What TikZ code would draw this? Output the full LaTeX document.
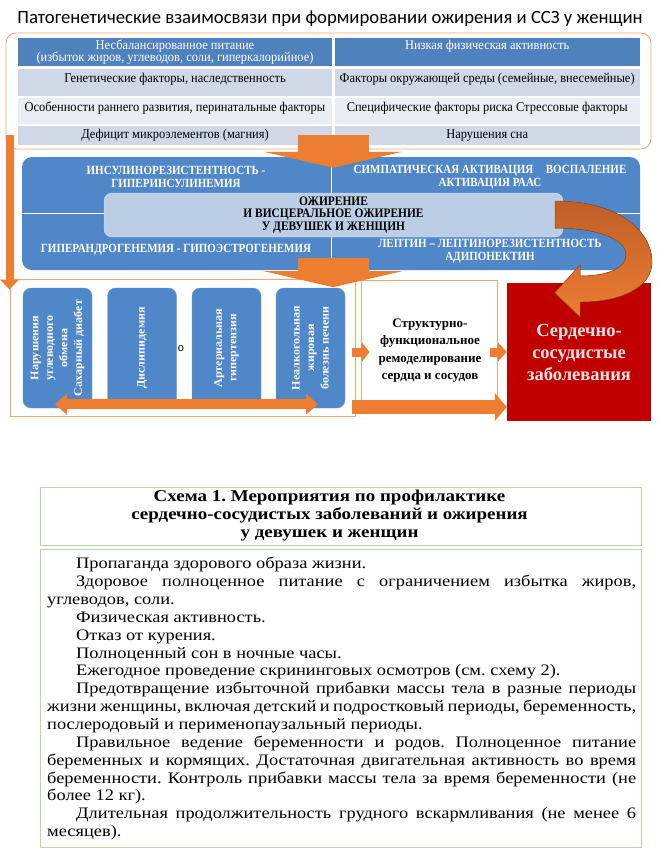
\documentclass[tikz,border=0pt]{standalone}
\usepackage{fontspec}
\setmainfont{Liberation Serif}
\newfontfamily\headfont{Carlito}
\newfontfamily\strayfont{Liberation Sans}
\newfontfamily\narrowfont[FakeStretch=0.88]{Liberation Serif}
\newfontfamily\tablefont[FakeStretch=0.93]{Liberation Serif}
\newfontfamily\widefont[FakeStretch=1.05]{Liberation Serif}
\newfontfamily\docfont[FakeStretch=1.15]{Liberation Serif}
\usetikzlibrary{arrows.meta, positioning, calc}
\definecolor{tablehead}{RGB}{79,129,189}
\definecolor{rowband}{RGB}{208,216,232}
\definecolor{rowpale}{RGB}{233,237,244}
\definecolor{mechblue}{RGB}{79,135,201}
\definecolor{obesblue}{RGB}{187,206,230}
\definecolor{riskorange}{RGB}{237,125,49}
\definecolor{riskbrown}{RGB}{190,95,40}
\definecolor{lineorange}{RGB}{240,165,115}
\definecolor{cvdred}{RGB}{192,0,0}
\definecolor{cvdtext}{RGB}{250,226,226}
\definecolor{notegreen}{RGB}{190,212,160}

\begin{document}
\frenchspacing
\begin{tikzpicture}[
  x=1pt, y=-1pt,
  cell/.style={rectangle, draw=white, line width=1.2pt, inner sep=2pt, align=center,
               font=\tablefont\fontsize{13.4}{12.5}\selectfont},
  headcell/.style={cell, fill=tablehead, text=white},
  bandcell/.style={cell, fill=rowband},
  palecell/.style={cell, fill=rowpale},
  mechtext/.style={font=\narrowfont\fontsize{12.5}{12.5}\selectfont\bfseries, text=white, align=center},
  effectbox/.style={rectangle, rounded corners=8pt, fill=mechblue, draw=mechblue!85!white,
                    minimum width=120pt, minimum height=69pt, rotate=90, align=center,
                    text=white, font=\widefont\fontsize{11.5}{14.5}\selectfont\bfseries},
  orangeframe/.style={rectangle, draw=lineorange, line width=0.9pt},
  blockarr/.style={riskorange}
]
\fill[white] (0,0) rectangle (660,857);
\useasboundingbox (0,0) rectangle (660,857);

\node[font=\headfont\fontsize{18.7}{22}\selectfont] (title) at (330,19)
  {Патогенетические взаимосвязи при формировании ожирения и ССЗ у женщин};

% risk factors
\node[orangeframe, rounded corners=10pt, minimum width=645pt, minimum height=116pt] (factors) at (328.5,91) {};
\node[headcell, minimum width=316pt, minimum height=30pt] (diet) at (175,52)
  {Несбалансированное питание\\(избыток жиров, углеводов, соли, гиперкалорийное)};
\node[bandcell, minimum width=316pt, minimum height=28pt, text depth=9pt, below=0pt of diet] (genes)
  {Генетические факторы, наследственность};
\node[palecell, minimum width=316pt, minimum height=27pt, text depth=9pt, below=0pt of genes] (early)
  {Особенности раннего развития, перинатальные факторы};
\node[bandcell, minimum width=316pt, minimum height=20pt, below=0pt of early] (micro)
  {Дефицит микроэлементов (магния)};
\node[headcell, minimum width=306pt, minimum height=30pt, text depth=14pt, right=0pt of diet] (activity)
  {Низкая физическая активность};
\node[bandcell, minimum width=306pt, minimum height=28pt, text depth=9pt, below=0pt of activity] (environ)
  {Факторы окружающей среды (семейные, внесемейные)};
\node[palecell, minimum width=306pt, minimum height=27pt, text depth=9pt, below=0pt of environ] (stress)
  {Специфические факторы риска Стрессовые факторы};
\node[bandcell, minimum width=306pt, minimum height=20pt, below=0pt of stress] (sleep)
  {Нарушения сна};

% mechanisms
\node[rectangle, rounded corners=10pt, fill=mechblue, minimum width=618pt, minimum height=113pt] (mech) at (331,213.5) {};
\draw[white, line width=0.8pt] (mech.north) -- (mech.south);
\draw[white, line width=0.8pt] (mech.west) -- (mech.east);
\node[mechtext] (insulin) at (176,177) {ИНСУЛИНОРЕЗИСТЕНТНОСТЬ -\\ГИПЕРИНСУЛИНЕМИЯ};
\node[mechtext] (sympath) at (490,177) {СИМПАТИЧЕСКАЯ АКТИВАЦИЯ\quad ВОСПАЛЕНИЕ\\АКТИВАЦИЯ РААС};
\node[mechtext] (androgen) at (176,250) {ГИПЕРАНДРОГЕНЕМИЯ - ГИПОЭСТРОГЕНЕМИЯ};
\node[mechtext] (leptin) at (490,251) {ЛЕПТИН – ЛЕПТИНОРЕЗИСТЕНТНОСТЬ\\АДИПОНЕКТИН};
\node[rectangle, rounded corners=8pt, fill=obesblue, draw=obesblue!60!white, inner sep=1pt,
      minimum width=459pt, minimum height=44pt, align=center,
      font=\narrowfont\fontsize{13}{12.5}\selectfont\bfseries] (obes) at (333.5,215)
  {ОЖИРЕНИЕ\\И ВИСЦЕРАЛЬНОЕ ОЖИРЕНИЕ\\У ДЕВУШЕК И ЖЕНЩИН};

% consequences
\node[orangeframe, minimum width=345pt, minimum height=137pt] (lower) at (182.5,347.5) {};
\node[effectbox] (carb) at (57.5,348) {Нарушения\\углеводного\\обмена\\Сахарный диабет};
\node[effectbox] (lipid) at (142,348) {Дислипидемия};
\node[effectbox] (hyperten) at (226.5,348) {Артериальная\\гипертензия};
\node[effectbox] (liver) at (310.5,348) {Неалкогольная\\жировая\\болезнь печени};
\node[font=\strayfont\fontsize{11}{12}\selectfont] (stray) at (181,349) {о};
\node[orangeframe, fill=white, minimum width=136pt, minimum height=129pt] (remodel) at (429,344.5) {};
\node[align=center, font=\fontsize{13}{17.5}\selectfont\bfseries] (remodeltext) at ($(remodel)+(1,6)$)
  {Структурно-\\функциональное\\ремоделирование\\сердца и сосудов};
\node[rectangle, fill=cvdred, minimum width=144pt, minimum height=138pt, align=center,
      text=cvdtext, font=\fontsize{18.5}{22}\selectfont\bfseries] (cvd) at (579,352)
  {Сердечно-\\сосудистые\\заболевания};

\draw[blockarr, line width=71pt, -{Triangle[width=138pt, length=16pt, line width=0pt]}]
  ($(factors.south)+(4.5,-14)$) -- ($(mech.north)+(2,11)$);
\draw[blockarr, line width=71pt, -{Triangle[width=138pt, length=16pt, line width=0pt]}]
  ($(mech.south)+(2,-12)$) -- ($(mech.south)+(2,17)$);
\draw[blockarr, line width=8pt, -{Triangle[width=19pt, length=10pt, line width=0pt]}]
  ($(factors.south west)+(4,-14)$) -- ($(factors.south west |- lower.north)+(4,11)$);
% carb / liver are turned, so their west anchor is at the bottom
\draw[blockarr, line width=10pt, {Triangle[width=21pt, length=12pt, line width=0pt]}-{Triangle[width=21pt, length=12pt, line width=0pt]}]
  ($(carb.west)+(-2.5,-4)$) -- ($(liver.west)+(7.5,-4)$);
\draw[blockarr, line width=9pt, -{Triangle[width=20pt, length=8pt, line width=0pt]}]
  ($(lower.east)+(-3,4.5)$) -- ($(remodel.west)+(9,7.5)$);
\draw[blockarr, line width=9pt, -{Triangle[width=19pt, length=9pt, line width=0pt]}]
  ($(remodel.east)+(-7,7.5)$) -- (cvd.west);
\draw[blockarr, line width=14pt, -{Triangle[width=28pt, length=12pt, line width=0pt]}]
  ($(lower.east)+(-3,59.5)$) -- ($(cvd.west)+(0,55)$);

% curved arrow from obesity to CVD
\coordinate (loopstart) at ($(obes.east)+(-8,-14)$);
\coordinate (looptip) at ($(cvd.north west)+(48,10)$);
\filldraw[draw=riskbrown!80!black, line width=0.5pt, top color=riskbrown, bottom color=riskorange]
  (loopstart) .. controls (620,201) and (652,232) .. (652,262)
  .. controls (652,288) and (620,302) .. (580,302)
  -- (580,317) -- (looptip) -- (580,265) -- (580,276)
  .. controls (608,276) and (626,268) .. (626,255)
  .. controls (626,240) and (600,228) .. (555,228) -- cycle;

% prevention scheme
\node[rectangle, draw=notegreen, line width=0.8pt, minimum width=601pt, minimum height=58pt] (scheme) at (340.5,516) {};
\node[align=center, font=\docfont\fontsize{16.5}{18}\selectfont\bfseries] (schemetext) at ($(scheme)+(-11,0)$)
  {Схема 1. Мероприятия по профилактике\\сердечно-сосудистых заболеваний и ожирения\\у девушек и женщин};
\node[rectangle, draw=notegreen, line width=0.8pt, minimum width=601pt, minimum height=298pt,
      below=4pt of scheme] (measures) {};
\node[anchor=north west, text width=589pt, inner sep=0pt, align=justify,
      font=\docfont\fontsize{16}{17.87}\selectfont] (measurestext) at (47,557)
  {\hspace*{29pt}Пропаганда здорового образа жизни.\par
   \hspace*{29pt}Здоровое полноценное питание с ограничением избытка жиров,\linebreak углеводов, соли.\par
   \hspace*{29pt}Физическая активность.\par
   \hspace*{29pt}Отказ от курения.\par
   \hspace*{29pt}Полноценный сон в ночные часы.\par
   \hspace*{29pt}Ежегодное проведение скрининговых осмотров (см. схему 2).\par
   \hspace*{29pt}Предотвращение избыточной прибавки массы тела в разные периоды\linebreak
   жизни женщины, включая детский и подростковый периоды, беременность,\linebreak
   послеродовый и перименопаузальный периоды.\par
   \hspace*{29pt}Правильное ведение беременности и родов. Полноценное питание\linebreak
   беременных и кормящих. Достаточная двигательная активность во время\linebreak
   беременности. Контроль прибавки массы тела за время беременности (не\linebreak
   более 12 кг).\par
   \hspace*{29pt}Длительная продолжительность грудного вскармливания (не менее 6\linebreak
   месяцев).};
\end{tikzpicture}
\end{document}
